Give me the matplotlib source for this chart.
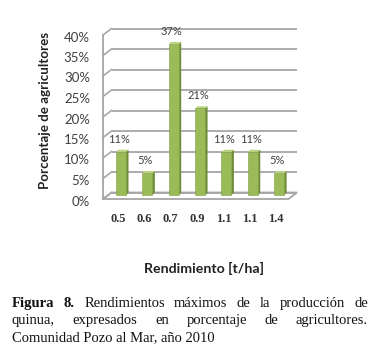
import matplotlib
matplotlib.use("Agg")
import matplotlib.pyplot as plt
from matplotlib.patches import Polygon

# ---- data ----
categories = ["0.5", "0.6", "0.7", "0.9", "1.1", "1.1", "1.4"]
values = [10.5, 5.3, 36.8, 21.1, 10.5, 10.5, 5.3]
labels = ["11%", "5%", "37%", "21%", "11%", "11%", "5%"]
yticks = [0, 5, 10, 15, 20, 25, 30, 35, 40]
ytick_labels = ["0%", "5%", "10%", "15%", "20%", "25%", "30%", "35%", "40%"]
ytitle = "Porcentaje de agricultores"
xtitle = "Rendimiento [t/ha]"
cap_bold = ["Figura", "8."]
cap_line1 = "Rendimientos máximos de la producción de"
cap_line2 = "quinua, expresados en porcentaje de agricultores."
cap_line3 = "Comunidad Pozo al Mar, año 2010"

W, H = 379, 364
fig = plt.figure(figsize=(W / 100, H / 100), dpi=100)
fig.patch.set_facecolor("white")

# pixel geometry of the front plane
X0PX, XSTEP = 118.0, 26.35     # pixel of category 0, pixels per category
Y0PX, YSTEP = 199.0, 4.1       # pixel of 0%, pixels per percent
L, R, T, B = 95, 310, 20, 205
ax = fig.add_axes([L / W, 1 - B / H, (R - L) / W, (B - T) / H])
ax.set_xlim((L - X0PX) / XSTEP, (R - X0PX) / XSTEP)
ax.set_ylim((Y0PX - B) / YSTEP, (Y0PX - T) / YSTEP)
ax.axis("off")

def px2dx(p):
    return p / XSTEP

def px2dy(p):
    return p / YSTEP

DX, DY = px2dx(8.5), px2dy(6.5)         # wall depth
xa, xb = px2dx(103 - X0PX), px2dx(288.5 - X0PX)   # front floor edges
grid_c = "#A6A6A6"
glw = 1.3

# floor
floor = Polygon([(xa, 0), (xb, 0), (xb + DX, DY), (xa + DX, DY)], closed=True,
                facecolor="white", edgecolor=grid_c, lw=glw, zorder=1)
ax.add_patch(floor)
# gridlines on back wall + left wall diagonals
for v in yticks:
    ax.plot([xa + DX, xb + DX], [v + DY, v + DY], color=grid_c, lw=glw, zorder=1,
            solid_capstyle="butt")
    ax.plot([xa, xa + DX], [v, v + DY], color=grid_c, lw=glw * 0.9, zorder=1)
ax.plot([xa, xa], [0, yticks[-1]], color=grid_c, lw=glw, zorder=1)

# bars
bw = px2dx(10.0)
bdx, bdy = px2dx(3.0), px2dy(4.0)    # bar front offset from front plane
sdx, sdy = px2dx(2.5), px2dy(2.2)    # bar depth
front_c, side_c, top_c = "#9BBB59", "#6F8C38", "#B9D47F"
for i, (v, lab) in enumerate(zip(values, labels)):
    l = i - bw / 2 + bdx
    r = i + bw / 2 + bdx
    b0 = bdy
    t0 = v + bdy
    ax.add_patch(Polygon([(r, b0), (r + sdx, b0 + sdy), (r + sdx, t0 + sdy), (r, t0)],
                         closed=True, facecolor=side_c, edgecolor="none", zorder=3))
    ax.add_patch(Polygon([(l, t0), (r, t0), (r + sdx, t0 + sdy), (l + sdx, t0 + sdy)],
                         closed=True, facecolor=top_c, edgecolor="none", zorder=3))
    ax.add_patch(Polygon([(l, b0), (r, b0), (r, t0), (l, t0)],
                         closed=True, facecolor=front_c, edgecolor="#7E9C46", lw=0.4, zorder=4))
    ax.text(i + px2dx(1), t0 + px2dy(12.5), lab, ha="center", va="center", fontsize=8,
            family="Lato", color="#404040", zorder=5)

# y tick labels
for v, s in zip(yticks, ytick_labels):
    ax.text(px2dx(90 - X0PX), v - px2dy(2.5), s, ha="right", va="center",
            fontsize=9.5, family="Lato", color="#404040")

# x tick labels
for i, c in enumerate(categories):
    ax.text(i, px2dy(Y0PX - 219), c, ha="center", va="center", fontsize=9,
            family="Liberation Serif", fontweight="bold", color="#333333")

# axis titles
fig.text(45 / W, 1 - 110 / H, ytitle, rotation=90, ha="center", va="center",
         fontsize=9.6, family="Lato", fontweight="bold", color="#222222")
fig.text(204 / W, 1 - 268 / H, xtitle, ha="center", va="center",
         fontsize=10.2, family="Lato", fontweight="bold", color="#222222")

# caption (justified)
CL, CR = 12, 368
cap_fs = 10.5
renderer = fig.canvas.get_renderer()

def justified(words, weights, base_px):
    texts = []
    widths = []
    for w, wt in zip(words, weights):
        t = fig.text(0, 1 - base_px / H, w, ha="left", va="baseline", fontsize=cap_fs,
                     family="Liberation Serif", fontweight=wt, color="#111111")
        widths.append(t.get_window_extent(renderer).width)
        texts.append(t)
    gap = (CR - CL - sum(widths)) / (len(words) - 1)
    x = CL
    for t, wd in zip(texts, widths):
        t.set_x(x / W)
        x += wd + gap

w1 = cap_bold + cap_line1.split()
justified(w1, ["bold"] * len(cap_bold) + ["normal"] * len(cap_line1.split()), 307)
w2 = cap_line2.split()
justified(w2, ["normal"] * len(w2), 324)
fig.text(CL / W, 1 - 341 / H, cap_line3, ha="left", va="baseline", fontsize=cap_fs,
         family="Liberation Serif", color="#111111")

fig.savefig("out.png", dpi=100, facecolor="white")
